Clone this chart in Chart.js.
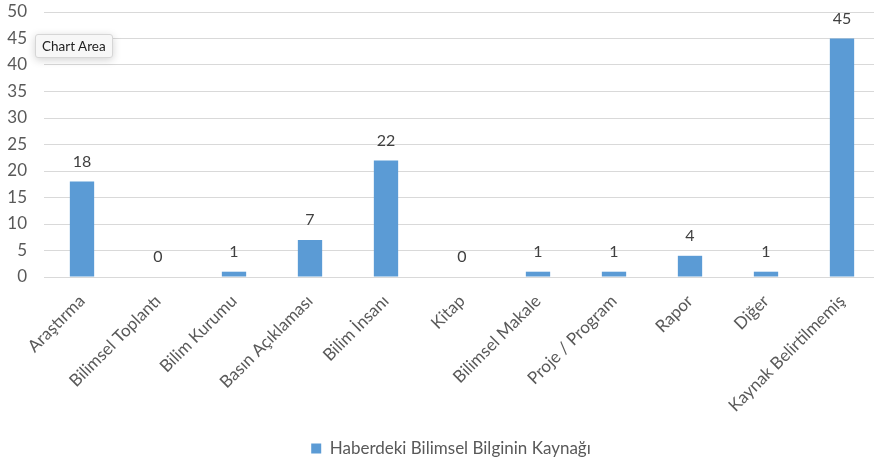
<!DOCTYPE html>
<html>
<head>
<meta charset="utf-8">
<script src="https://cdn.jsdelivr.net/npm/chart.js@4.4.1/dist/chart.umd.min.js"></script>
<style>
  html, body { margin: 0; padding: 0; background: #fff; overflow: hidden; }
  #wrap { position: relative; width: 880px; height: 459px; }
  #tip {
    position: absolute; left: 35px; top: 34px; padding: 3px 6px;
    background: #f7f7f7; border: 1px solid #d6d6d6; border-radius: 3px;
    font: 13.5px "Lato", sans-serif; color: #222;
    box-shadow: 0 2px 8px rgba(0,0,0,0.18);
  }
</style>
</head>
<body>
<div id="wrap">
  <canvas id="chart" width="880" height="459"></canvas>
  <div id="tip">Chart Area</div>
</div>
<script>
// sources of scientific info in news items
const categories = ["Araştırma", "Bilimsel Toplantı", "Bilim Kurumu", "Basın Açıklaması", "Bilim İnsanı",
  "Kitap", "Bilimsel Makale", "Proje / Program", "Rapor", "Diğer", "Kaynak Belirtilmemiş"];
const counts = [18, 0, 1, 7, 22, 0, 1, 1, 4, 1, 45];
const seriesName = "Haberdeki Bilimsel Bilginin Kaynağı";
const yTicks = [0, 5, 10, 15, 20, 25, 30, 35, 40, 45, 50];

const textGray = "#595959";
const fontFamily = "Lato, 'Open Sans', sans-serif";

// value printed above each bar
const valueLabels = {
  id: "valueLabels",
  afterDatasetsDraw(chart) {
    const ctx = chart.ctx;
    const meta = chart.getDatasetMeta(0);
    ctx.save();
    ctx.font = "16px " + fontFamily;
    ctx.fillStyle = "#404040";
    ctx.textAlign = "center";
    ctx.textBaseline = "bottom";
    meta.data.forEach((bar, i) => {
      ctx.fillText(String(counts[i]), bar.x, bar.y - 12);
    });
    ctx.restore();
  }
};

// nudge the centred legend a little to the right
const legendShift = {
  id: "legendShift",
  afterLayout(chart) {
    if (chart.legend) chart.legend.left += 22;
  }
};

new Chart(document.getElementById("chart"), {
  type: "bar",
  plugins: [valueLabels, legendShift],
  data: {
    labels: categories,
    datasets: [{
      label: seriesName,
      data: counts,
      backgroundColor: "#5B9BD5",
      borderWidth: 0,
      categoryPercentage: 1,
      barPercentage: 0.32
    }]
  },
  options: {
    responsive: false,
    animation: false,
    layout: { padding: { top: 12, right: 0, left: 0, bottom: -8 } },
    plugins: {
      tooltip: { enabled: false },
      legend: {
        position: "bottom",
        labels: {
          boxWidth: 10, boxHeight: 10, padding: 2, color: textGray,
          font: { size: 17, family: fontFamily }
        }
      }
    },
    scales: {
      y: {
        min: 0, max: 50,
        afterBuildTicks: (axis) => { axis.ticks = yTicks.map(v => ({ value: v })); },
        afterFit: (axis) => { axis.width = 44; },
        border: { display: false },
        // invisible tick marks keep the labels off the plot without adding top padding
        grid: { color: "#d9d9d9", tickColor: "transparent", tickLength: 17 },
        ticks: { color: textGray, padding: 0, font: { size: 17, family: fontFamily } }
      },
      x: {
        afterFit: (axis) => { axis.height = 161; },
        border: { color: "#d9d9d9" },
        grid: { display: false },
        ticks: {
          color: textGray, minRotation: 45, maxRotation: 45, padding: 6,
          font: { size: 17, family: fontFamily }
        }
      }
    }
  }
});
</script>
</body>
</html>
